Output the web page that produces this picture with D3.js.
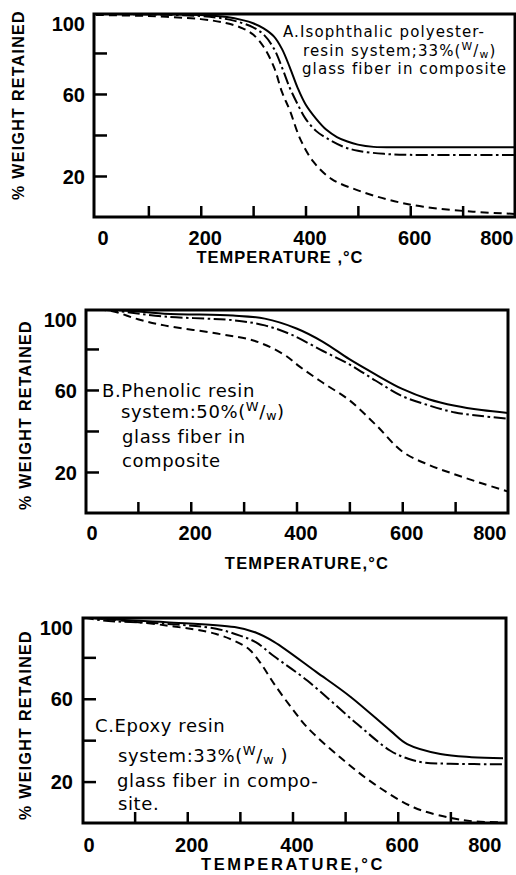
<!DOCTYPE html>
<html><head><meta charset="utf-8">
<script src="https://cdn.jsdelivr.net/npm/d3@7/dist/d3.min.js"></script>
<style>
html,body{margin:0;padding:0;background:#fff;}
svg{display:block;}
</style></head><body>
<svg id="chart" width="516" height="875"></svg>
<script>
// ---------- data ----------
const xMinorTicks = [100, 200, 300, 400, 500, 600, 700];
const xTickLabels = [0, 200, 400, 600, 800];
const yMinorTicks = [20, 40, 60, 80];
const yTickLabels = [20, 60, 100];

// Panel A: isophthalic polyester
const tA_solid   = [0,100,200,250,280,300,320,340,355,370,385,400,420,440,460,480,500,530,600,700,800];
const wA_solid   = [99,99,98.5,97.5,96,94.5,92,88,82,73,63,55,48,42.5,39,36.8,35.3,34.2,34,34,34];
const tA_dashdot = [0,100,200,250,280,300,320,340,355,370,385,400,420,440,470,500,550,600,700,800];
const wA_dashdot = [99,98.8,98,96.5,94.5,92.5,89,82,73,63,55,48,42,38.5,34.5,32.3,30.8,30.3,30.2,30.2];
const tA_dashed  = [0,100,200,250,280,300,320,340,355,370,390,415,450,500,560,625,720,800];
const wA_dashed  = [98.5,98,96.5,94.5,92,89,83,73,61,52,38,27,18.5,13,8.3,5,2.6,1.5];

// Panel B: phenolic
const tB_solid   = [0,50,150,280,340,400,450,500,550,600,650,700,750,800];
const wB_solid   = [99.5,99.3,97.2,96.3,94.8,90,83.5,75,67.5,60.5,55.5,52.3,50.2,48.8];
const tB_dashdot = [0,50,150,280,340,390,450,500,550,600,650,700,750,800];
const wB_dashdot = [99.5,98.8,95.8,94,91.5,87,79,72.5,64.5,57,52.5,49,47.3,46];
const tB_dashed  = [0,50,100,150,250,320,375,406,450,500,550,600,650,700,750,800];
const wB_dashed  = [99.5,98.5,94.5,91.5,87.5,84,77.5,71.4,63.5,55,43,30,23.5,18.8,14.5,10.5];

// Panel C: epoxy
const tC_solid   = [0,40,160,290,330,365,445,510,586,618,681,740,800];
const wC_solid   = [99.5,98.6,97,94.6,92,87.5,73,61,44.6,38.1,33.3,31.8,31.3];
const tC_dashdot = [0,40,160,255,300,330,365,428,523,586,620,650,700,800];
const wC_dashdot = [99.5,97.8,96.2,93.8,90.5,87.3,80.5,68.8,47.8,34.9,31,29.2,28.6,28.4];
const tC_dashed  = [0,40,160,255,305,320,340,365,400,428,491,555,631,700,745,800];
const wC_dashed  = [99.5,98.6,95.4,91.3,86,83.3,77,67.2,55,46.2,31.6,18.9,7.5,2.5,0.8,0.3];

const seriesStyles = {solid: null, dashdot: "12,3.5,2.5,3.5", dashed: "8,5"};

// ---------- layout ----------
const panels = [
  {id:"A", frame:{l:94,r:515,t:14,b:217}, xr:[96,515],
   series:[[tA_solid,wA_solid,"solid"],[tA_dashdot,wA_dashdot,"dashdot"],[tA_dashed,wA_dashed,"dashed"]],
   xPad:14, yPad:9, yTitle:{x:18,y:105}, xTitle:{x:280,y:263,text:"TEMPERATURE ,°C",ls:1},
   note:{size:15, ls:1.1, lines:[
     {x:283,y:37,parts:[["A.Isophthalic polyester-"]]},
     {x:303,y:56,parts:[["resin system;33%("],["W","sup"],["/"],["w","sub"],[")"]]},
     {x:302,y:74,parts:[["glass fiber in composite"]]}
   ]}},
  {id:"B", frame:{l:86,r:508,t:310,b:513}, xr:[85,508],
   series:[[tB_solid,wB_solid,"solid"],[tB_dashdot,wB_dashdot,"dashdot"],[tB_dashed,wB_dashed,"dashed"]],
   xPad:13, yPad:9, yTitle:{x:25,y:415}, xTitle:{x:307,y:569,text:"TEMPERATURE,°C",ls:1.2},
   note:{size:18, ls:0.6, lines:[
     {x:102,y:397,parts:[["B.Phenolic resin"]]},
     {x:121,y:418,parts:[["system:50%("],["W","sup"],["/"],["w","sub"],[")"]]},
     {x:122,y:443,parts:[["glass fiber in"]]},
     {x:122,y:467,parts:[["composite"]]}
   ]}},
  {id:"C", frame:{l:83,r:506,t:618,b:823}, xr:[82,503],
   series:[[tC_solid,wC_solid,"solid"],[tC_dashdot,wC_dashdot,"dashdot"],[tC_dashed,wC_dashed,"dashed"]],
   xPad:15, yPad:10, yTitle:{x:25,y:725}, xTitle:{x:293,y:870,text:"TEMPERATURE,°C",ls:2.6},
   note:{size:18, ls:0.6, lines:[
     {x:95,y:732,parts:[["C.Epoxy resin"]]},
     {x:118,y:762,parts:[["system:33%("],["W","sup"],["/"],["w","sub"],[" )"]]},
     {x:117,y:787,parts:[["glass fiber in compo-"]]},
     {x:118,y:810,parts:[["site."]]}
   ]}}
];

const svg = d3.select("#chart");
const numFont = "'Liberation Sans', Arial, Helvetica, sans-serif";
const noteFont = "'DejaVu Sans', Verdana, sans-serif";

panels.forEach(p => {
  const f = p.frame;
  const x = d3.scaleLinear().domain([0, 800]).range(p.xr);
  const y = d3.scaleLinear().domain([0, 99]).range([f.b, f.t]);
  const g = svg.append("g");

  const clipId = "clip" + p.id;
  g.append("clipPath").attr("id", clipId)
    .append("rect").attr("x", f.l).attr("y", f.t).attr("width", f.r - f.l).attr("height", f.b - f.t);

  const line = d3.line().x(d => x(d[0])).y(d => y(d[1])).curve(d3.curveCatmullRom.alpha(0.5));
  p.series.forEach(([ts, ws, style]) => {
    const pts = ts.map((t, i) => [t, ws[i]]);
    g.append("path").datum(pts)
      .attr("d", line)
      .attr("fill", "none")
      .attr("stroke", "#000")
      .attr("stroke-width", 2)
      .attr("stroke-dasharray", seriesStyles[style])
      .attr("clip-path", `url(#${clipId})`);
  });

  // inward x ticks
  g.append("g").attr("transform", `translate(0,${f.b})`)
    .call(d3.axisBottom(x).tickValues(xMinorTicks).tickSize(-11).tickFormat(""))
    .call(a => { a.select(".domain").remove(); a.selectAll("line").attr("stroke-width", 2.5); });
  // inward y ticks
  g.append("g").attr("transform", `translate(${f.l},0)`)
    .call(d3.axisLeft(y).tickValues(yMinorTicks).tickSize(-13).tickFormat(""))
    .call(a => { a.select(".domain").remove(); a.selectAll("line").attr("stroke-width", 2.5); });

  // x tick labels
  g.append("g").attr("transform", `translate(0,${f.b})`)
    .call(d3.axisBottom(x).tickValues(xTickLabels).tickSize(0).tickPadding(p.xPad).tickFormat(d3.format("d")))
    .call(a => {
      a.select(".domain").remove();
      a.selectAll("text").attr("font-family", numFont).attr("font-size", 20).attr("font-weight", "bold").attr("fill", "#000")
        .attr("text-anchor", d => d === 0 ? "start" : d === 800 ? "end" : "middle")
        .attr("dx", d => d === 0 ? 1 : d === 800 ? -2 : 4);
    });
  // y tick labels
  g.append("g").attr("transform", `translate(${f.l},0)`)
    .call(d3.axisLeft(y).tickValues(yTickLabels).tickSize(0).tickPadding(p.yPad).tickFormat(d3.format("d")))
    .call(a => {
      a.select(".domain").remove();
      a.selectAll("text").attr("font-family", numFont).attr("font-size", 20).attr("font-weight", "bold").attr("fill", "#000")
        .attr("dy", d => d === 100 ? "0.92em" : "0.36em");
    });

  // frame
  g.append("rect").attr("x", f.l).attr("y", f.t).attr("width", f.r - f.l).attr("height", f.b - f.t)
    .attr("fill", "none").attr("stroke", "#000").attr("stroke-width", 3);

  // axis titles
  g.append("text").attr("x", p.xTitle.x).attr("y", p.xTitle.y)
    .attr("text-anchor", "middle").attr("font-family", numFont).attr("font-weight", "bold")
    .attr("font-size", 16.5).attr("letter-spacing", p.xTitle.ls).text(p.xTitle.text);
  g.append("text").attr("transform", `translate(${p.yTitle.x + 6},${p.yTitle.y}) rotate(-90)`)
    .attr("text-anchor", "middle").attr("font-family", numFont).attr("font-weight", "bold")
    .attr("font-size", 16).attr("letter-spacing", 1.3).text("% WEIGHT RETAINED");

  // annotation
  p.note.lines.forEach(ln => {
    const t = g.append("text").attr("x", ln.x).attr("y", ln.y)
      .attr("font-family", noteFont).attr("font-size", p.note.size).attr("letter-spacing", p.note.ls).attr("fill", "#000");
    let shift = 0;
    ln.parts.forEach(([s, kind]) => {
      const ts = t.append("tspan").text(s);
      const target = kind === "sup" ? -0.38 : kind === "sub" ? 0.12 : 0;
      const dy = (target - shift) * p.note.size;
      if (dy !== 0) ts.attr("dy", dy);
      shift = target;
      if (kind) ts.attr("font-size", p.note.size * 0.72);
    });
  });
});
</script>
</body></html>
